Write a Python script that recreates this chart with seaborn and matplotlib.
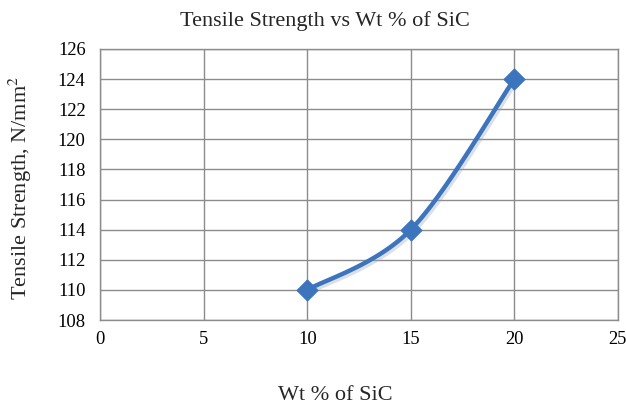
import numpy as np
import pandas as pd
import matplotlib
matplotlib.use("Agg")
import matplotlib.pyplot as plt
import matplotlib.patheffects as pe
import seaborn as sns

# Tensile strength measurements for each SiC weight fraction
wt_sic = [10, 15, 20]
tensile = [110, 114, 124]
x_ticks = [0, 5, 10, 15, 20, 25]
y_ticks = [108, 110, 112, 114, 116, 118, 120, 122, 124, 126]

title = "Tensile Strength vs Wt % of SiC"
x_label = "Wt % of SiC"
y_label = "Tensile Strength, N/mm$^2$"

sns.set_theme(style="white")
plt.rcParams["font.family"] = ["Liberation Serif", "DejaVu Serif"]
plt.rcParams["mathtext.fontset"] = "stix"

df = pd.DataFrame({"wt": wt_sic, "ts": tensile})

fig = plt.figure(figsize=(6.26, 4.09), dpi=100)
ax = fig.add_axes([0.16, 0.2176, 0.827, 0.6626])


def smooth_curve(x, y, n=60):
    """Catmull-Rom style cubic Bezier through the points (spreadsheet 'smoothed line')."""
    p = np.column_stack([x, y]).astype(float)
    ext = np.vstack([p[0], p, p[-1]])
    t = np.linspace(0, 1, n)[:, None]
    segs = []
    for i in range(1, len(ext) - 2):
        p0, p1, p2, p3 = ext[i - 1], ext[i], ext[i + 1], ext[i + 2]
        c1 = p1 + (p2 - p0) / 6.0
        c2 = p2 - (p3 - p1) / 6.0
        b = ((1 - t) ** 3) * p1 + 3 * ((1 - t) ** 2) * t * c1 + 3 * (1 - t) * t ** 2 * c2 + t ** 3 * p2
        segs.append(b)
    out = np.vstack(segs)
    return out[:, 0], out[:, 1]


color = "#3D74BE"
sx, sy = smooth_curve(df["wt"].values, df["ts"].values)
shadow = [pe.SimpleLineShadow(offset=(1.2, -1.2), shadow_color="#9aa6b8", alpha=0.35, linewidth=4.5), pe.Normal()]
ax.plot(sx, sy, color=color, lw=3.2, solid_capstyle="round", zorder=3, path_effects=shadow)
sns.scatterplot(data=df, x="wt", y="ts", marker="D", s=120, color=color,
                edgecolor=color, linewidth=0.5, zorder=4, ax=ax)

ax.set_xlim(0, 25)
ax.set_ylim(108, 126)
ax.set_xticks(x_ticks)
ax.set_yticks(y_ticks)
ax.grid(True, color="#8C8C8C", linewidth=1.0)
ax.set_axisbelow(True)
for s in ax.spines.values():
    s.set_color("#8C8C8C")
    s.set_linewidth(1.0)
ax.tick_params(axis="both", length=0, labelsize=13.3, colors="black")
ax.tick_params(axis="x", pad=8)
ax.tick_params(axis="y", pad=10.5)

fig.text(325 / 626, 1 - 21 / 409, title, fontsize=16, ha="center", va="center")
ax.set_xlabel(x_label, fontsize=16, va="center")
ax.set_ylabel(y_label, fontsize=16, va="center")
ax.xaxis.set_label_coords(0.454, -0.280)
ax.yaxis.set_label_coords(-0.154, 0.487)

fig.savefig("out.png", dpi=100)
